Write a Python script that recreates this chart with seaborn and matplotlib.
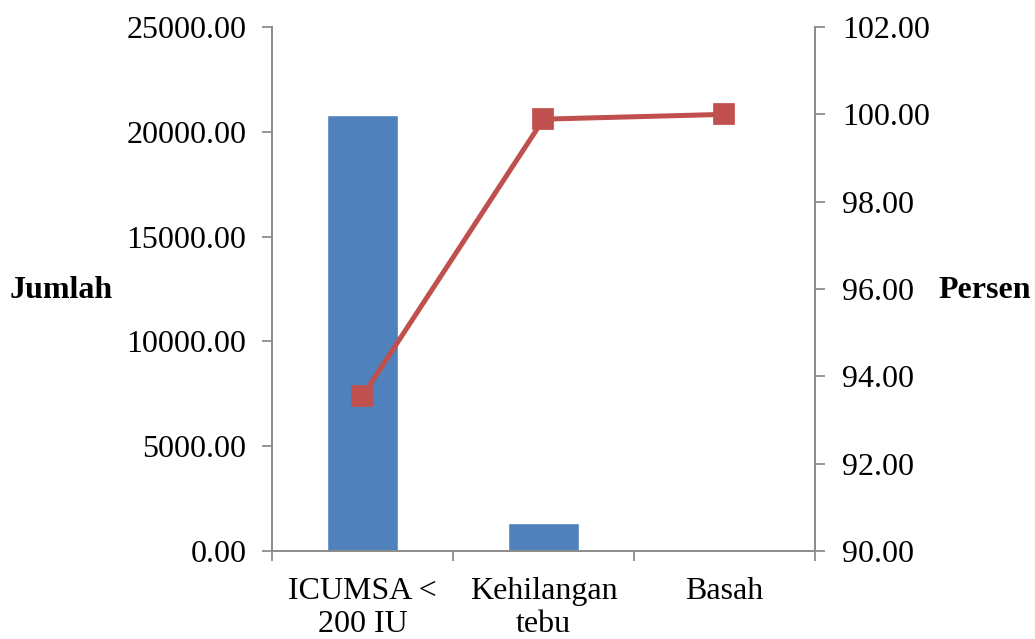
import seaborn as sns
import matplotlib.pyplot as plt
import matplotlib.ticker as mtick
import pandas as pd

# data
categories = ["ICUMSA <\n200 IU", "Kehilangan\ntebu", "Basah"]
jumlah = [20800, 1360, 25]
persen = [93.55, 99.89, 100.00]

df = pd.DataFrame({"kategori": categories, "jumlah": jumlah, "persen": persen})

sns.set_theme(style="white")
plt.rcParams['font.family'] = ['Liberation Serif', 'DejaVu Serif']
plt.rcParams['text.color'] = 'black'

fig = plt.figure(figsize=(10.35, 6.39), dpi=100)
ax = fig.add_axes([0.2628, 0.1377, 0.7874 - 0.2628, 0.9577 - 0.1377])

sns.barplot(data=df, x="kategori", y="jumlah", color="#4F81BD", saturation=1,
            width=0.39, ax=ax, zorder=2)

ax2 = ax.twinx()
sns.pointplot(data=df, x="kategori", y="persen", color="#C0504D", markers="s",
              markersize=13, linewidth=3.6, ax=ax2)

ax.set_xlim(-0.5, 2.5)
ax.set_ylim(0, 25000)
ax2.set_ylim(90, 102)
ax.yaxis.set_major_locator(mtick.MultipleLocator(5000))
ax2.yaxis.set_major_locator(mtick.MultipleLocator(2))
ax.yaxis.set_major_formatter(mtick.FormatStrFormatter("%.2f"))
ax2.yaxis.set_major_formatter(mtick.FormatStrFormatter("%.2f"))

gray = "#8c8c8c"
for a in (ax, ax2):
    for s in a.spines.values():
        s.set_color(gray)
        s.set_linewidth(1.3)
    a.spines["top"].set_visible(False)
    a.grid(False)
    a.set_xlabel("")
    a.set_ylabel("")

ax.tick_params(axis="y", which="major", left=True, length=7.5, width=1.3, color=gray,
               labelsize=23, labelcolor="black", pad=11)
ax2.tick_params(axis="y", which="major", right=True, length=7.5, width=1.3, color=gray,
                labelsize=23, labelcolor="black", pad=12)

# category labels at centres, tick marks at boundaries
ax.set_xticks([0, 1, 2])
ax.set_xticklabels(categories, linespacing=1.15)
ax.tick_params(axis="x", which="major", length=0, labelsize=23, labelcolor="black", pad=19)
ax.xaxis.set_minor_locator(mtick.FixedLocator([-0.5, 0.5, 1.5, 2.5]))
ax.tick_params(axis="x", which="minor", bottom=True, length=7.5, width=1.3, color=gray)

fig.text(61 / 1035, 1 - 291 / 639, "Jumlah", fontsize=23, fontweight="bold",
         ha="center", va="center")
fig.text(985 / 1035, 1 - 291 / 639, "Persen", fontsize=23, fontweight="bold",
         ha="center", va="center")

fig.savefig("out.png", dpi=100)
